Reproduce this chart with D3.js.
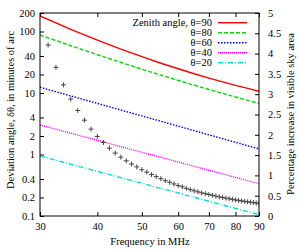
<!DOCTYPE html>
<html>
<head>
<meta charset="utf-8">
<script src="https://cdn.jsdelivr.net/npm/d3@7"></script>
<style>
  body { margin: 0; background: #fff; }
  svg { display: block; }
</style>
</head>
<body>
<svg id="chart" width="300" height="250"></svg>
<script>
const freqs = [30, 35, 40, 45, 50, 55, 60, 65, 70, 75, 80, 85, 90]
const zenith90 = [179, 108.6, 72.4, 51.7, 39.0, 30.5, 24.8, 20.6, 17.5, 15.2, 13.3, 11.9, 10.7]
const zenith80 = [87.7, 58.7, 41.9, 31.4, 24.4, 19.5, 16.0, 13.4, 11.4, 9.86, 8.61, 7.60, 6.77]
const zenith60 = [12.4, 8.96, 6.77, 5.29, 4.24, 3.47, 2.89, 2.44, 2.09, 1.81, 1.58, 1.39, 1.23]
const zenith40 = [3.02, 2.22, 1.70, 1.34, 1.087, 0.899, 0.755, 0.643, 0.555, 0.483, 0.425, 0.376, 0.336]
const zenith20 = [0.946, 0.695, 0.532, 0.420, 0.341, 0.281, 0.237, 0.201, 0.174, 0.151, 0.133, 0.118, 0.105]

const skyFreqs = [31.25, 32.5, 33.75, 35, 36.25, 37.5, 38.75, 40, 41.25, 42.5, 43.75, 45,
  46.25, 47.5, 48.75, 50, 51.25, 52.5, 53.75, 55, 56.25, 57.5, 58.75, 60,
  61.25, 62.5, 63.75, 65, 66.25, 67.5, 68.75, 70, 71.25, 72.5, 73.75, 75,
  76.25, 77.5, 78.75, 80, 81.25, 82.5, 83.75, 85, 86.25, 87.5, 88.75, 90]
const skyIncrease = [4.21, 3.66, 3.23, 2.88, 2.60, 2.36, 2.14, 1.96, 1.81, 1.67, 1.55, 1.45,
  1.36, 1.28, 1.21, 1.14, 1.08, 1.02, 0.97, 0.92, 0.87, 0.83, 0.79, 0.75,
  0.72, 0.68, 0.65, 0.62, 0.595, 0.57, 0.55, 0.53, 0.51, 0.49, 0.47, 0.455,
  0.44, 0.425, 0.41, 0.395, 0.385, 0.37, 0.36, 0.35, 0.34, 0.33, 0.32, 0.31]

const xTicks = [30, 40, 50, 60, 70, 80, 90]
const yTicks = [0.1, 0.2, 0.4, 1, 2, 4, 10, 20, 40, 100, 200]
const y2Ticks = [0, 0.5, 1, 1.5, 2, 2.5, 3, 3.5, 4, 4.5, 5]

const series = [
  { label: 'Zenith angle, θ=90', values: zenith90, color: '#ff0000', dash: null },
  { label: 'θ=80', values: zenith80, color: '#00dd00', dash: '4,2' },
  { label: 'θ=60', values: zenith60, color: '#0000ff', dash: '1.5,1.5' },
  { label: 'θ=40', values: zenith40, color: '#ff00ff', dash: '1,1' },
  { label: 'θ=20', values: zenith20, color: '#00dddd', dash: '5,2,1,2' }
]

const font = 'Liberation Serif, Times New Roman, serif'
const plotLeft = 40, plotRight = 259, plotTop = 13, plotBottom = 216

const svg = d3.select('#chart')

const x = d3.scaleLog().domain([30, 90]).range([plotLeft, plotRight])
const y = d3.scaleLog().domain([0.1, 200]).range([plotBottom, plotTop])
const y2 = d3.scaleLinear().domain([0, 5]).range([plotBottom, plotTop])

svg.append('defs').append('clipPath')
  .attr('id', 'plot')
  .append('rect')
  .attr('x', plotLeft).attr('y', plotTop)
  .attr('width', plotRight - plotLeft).attr('height', plotBottom - plotTop)

const styleAxis = g => {
  g.attr('font-family', font).attr('font-size', 10.5)
  g.select('.domain').remove()
  g.selectAll('.tick line').attr('stroke', '#000')
  g.selectAll('.tick text').attr('fill', '#000')
}

svg.append('g')
  .attr('transform', `translate(0,${plotBottom})`)
  .call(d3.axisBottom(x).tickValues(xTicks).tickFormat(d3.format('d')).tickSize(-4).tickPadding(7))
  .call(styleAxis)

svg.append('g')
  .attr('transform', `translate(0,${plotTop})`)
  .call(d3.axisTop(x).tickValues(xTicks).tickFormat('').tickSize(-4))
  .call(styleAxis)

svg.append('g')
  .attr('transform', `translate(${plotLeft},0)`)
  .call(d3.axisLeft(y).tickValues(yTicks).tickFormat(d => String(d)).tickSize(-4).tickPadding(5))
  .call(styleAxis)

svg.append('g')
  .attr('transform', `translate(${plotRight},0)`)
  .call(d3.axisRight(y2).tickValues(y2Ticks).tickFormat(d => String(d)).tickSize(-4).tickPadding(9))
  .call(styleAxis)

const plot = svg.append('g').attr('clip-path', 'url(#plot)')

const line = d3.line()
  .x((d, i) => x(freqs[i]))
  .y(d => y(d))

plot.selectAll('path.curve')
  .data(series)
  .enter().append('path')
  .attr('class', 'curve')
  .attr('d', d => line(d.values))
  .attr('fill', 'none')
  .attr('stroke', d => d.color)
  .attr('stroke-width', 1.4)
  .attr('stroke-dasharray', d => d.dash)

plot.selectAll('path.cross')
  .data(skyIncrease)
  .enter().append('path')
  .attr('class', 'cross')
  .attr('transform', (d, i) => `translate(${x(skyFreqs[i])},${y2(d)})`)
  .attr('d', 'M-2.5,0H2.5M0,-2.5V2.5')
  .attr('stroke', '#444')
  .attr('stroke-width', 1)

// legend
const legend = svg.append('g')
  .attr('font-family', font)
  .attr('font-size', 10.5)

const rows = legend.selectAll('g')
  .data(series)
  .enter().append('g')
  .attr('transform', (d, i) => `translate(0,${22.7 + i * 10})`)

rows.append('text')
  .attr('x', 212)
  .attr('dy', '0.33em')
  .attr('text-anchor', 'end')
  .text(d => d.label)

rows.append('line')
  .attr('x1', 218).attr('x2', 247)
  .attr('stroke', d => d.color)
  .attr('stroke-width', 1.4)
  .attr('stroke-dasharray', d => d.dash)

svg.append('rect')
  .attr('x', plotLeft).attr('y', plotTop)
  .attr('width', plotRight - plotLeft).attr('height', plotBottom - plotTop)
  .attr('fill', 'none')
  .attr('stroke', '#000')
  .attr('stroke-width', 1)

svg.append('text')
  .attr('x', 150).attr('y', 245)
  .attr('text-anchor', 'middle')
  .attr('font-family', font).attr('font-size', 10.5)
  .text('Frequency in MHz')

svg.append('text')
  .attr('transform', 'translate(14,110)rotate(-90)')
  .attr('text-anchor', 'middle')
  .attr('font-family', font).attr('font-size', 10.5)
  .text('Deviation angle, δθ, in minutes of arc')

svg.append('text')
  .attr('transform', 'translate(294,114)rotate(-90)')
  .attr('text-anchor', 'middle')
  .attr('font-family', font).attr('font-size', 10.5)
  .text('Percentage increase in visible sky area')
</script>
</body>
</html>
